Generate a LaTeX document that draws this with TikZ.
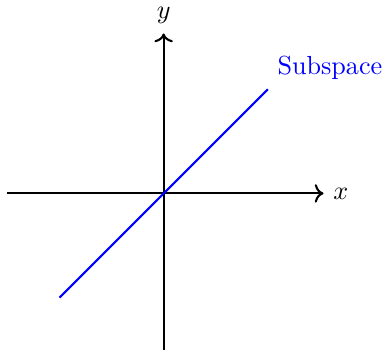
\documentclass[tikz,border=0pt]{standalone}
\usepackage{tikz}
\usetikzlibrary{arrows.meta}

\begin{document}
\begin{tikzpicture}[=>stealth]
\useasboundingbox(-2.2,-2.15) rectangle (3.03,2.6);
\coordinate (xl) at (-2.1,0);
\coordinate (xr) at (2.15,0);
\coordinate (yb) at (0,-2.1);
\coordinate (yt) at (0,2.15);
\coordinate (sa) at (-1.4,-1.4);
\coordinate (sb) at (1.4,1.4);
\draw[thick,->](xl)--(xr)node[right]{$x$};
\draw[thick,->](yb)--(yt)node[above]{$y$};
\draw[thick,blue](sa)--(sb)node[above right]{Subspace};
\end{tikzpicture}
\end{document}
